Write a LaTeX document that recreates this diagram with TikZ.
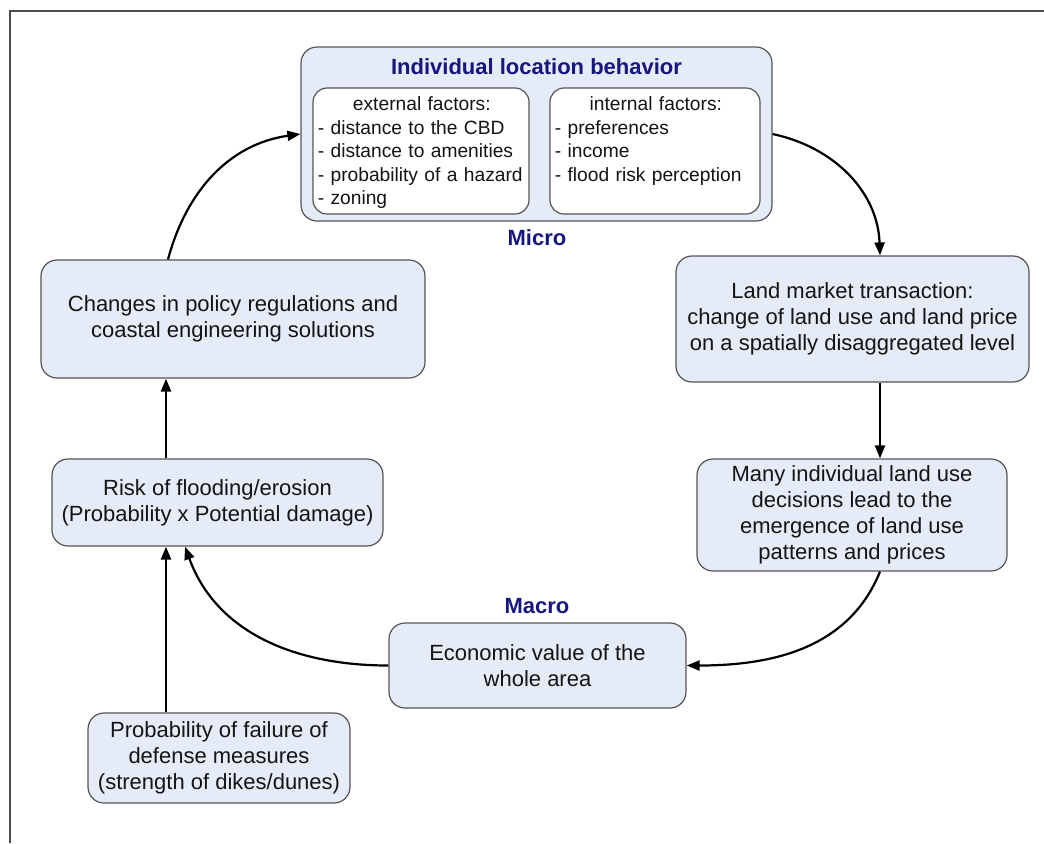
\documentclass[tikz,border=0pt]{standalone}
\usepackage{fontspec}
\setmainfont{Liberation Sans}
\usetikzlibrary{arrows.meta,positioning}
\definecolor{boxblue}{RGB}{230,236,247}
\definecolor{navytitle}{RGB}{22,22,128}
\definecolor{edgegray}{RGB}{85,85,85}

\begin{document}
\begin{tikzpicture}
  [x=0.5pt,y=0.5pt,
   every node/.style={font=\fontsize{11}{13}\selectfont,text=black!92},
   box/.style={rectangle,rounded corners=8pt,draw=edgegray,line width=0.6pt,fill=boxblue,align=center,inner sep=1pt},
   inbox/.style={rectangle,rounded corners=7pt,draw=edgegray,line width=0.6pt,fill=white},
   factors/.style={font=\fontsize{9.6}{11.75}\selectfont,align=left,inner sep=2pt},
   level/.style={font=\fontsize{11}{12}\selectfont\bfseries,text=navytitle},
   arr/.style={-{Triangle[length=6.5pt,width=5pt]},line width=1.1pt,black}]
  \useasboundingbox (0,0) rectangle (1044,-843);
  \draw[line width=1pt,gray!60!black] (10,-843) -- (10,-11) -- (1044,-11);

  % micro level
  \node[box,minimum width=235.5pt,minimum height=87pt] (indiv) at (536.5,-134) {};
  \node[level] (indivT) at (536.5,-67) {Individual location behavior};
  \node[inbox,minimum width=108pt,minimum height=63pt] (ext) at (421,-151) {};
  \node[inbox,minimum width=105pt,minimum height=63pt] (int) at (655,-151) {};
  \node[factors,anchor=north west,text width=104pt] (extT) at ([xshift=0.5pt,yshift=-2.5pt]ext.north west)
    {\makebox[\linewidth][c]{external factors:}\\- distance to the CBD\\- distance to amenities\\- probability of a hazard\\- zoning};
  \node[factors,anchor=north west,text width=101pt] (intT) at ([xshift=0.5pt,yshift=-2.5pt]int.north west)
    {\makebox[\linewidth][c]{internal factors:}\\- preferences\\- income\\- flood risk perception};
  \node[level] (micro) at (537,-238) {Micro};

  % right side
  \node[box,minimum width=176.5pt,minimum height=63pt] (land) at (852.5,-319)
    {Land market transaction:\\change of land use and land price\\on a spatially disaggregated level};
  \node[box,minimum width=155pt,minimum height=56pt] (many) at (852,-515)
    {Many individual land use\\decisions lead to the\\emergence of land use\\patterns and prices};

  % macro level
  \node[level] (macro) at (537,-606) {Macro};
  \node[box,minimum width=148.5pt,minimum height=42.5pt] (econ) at (537.5,-665.5)
    {Economic value of the\\whole area};

  % left side
  \node[box,minimum width=131pt,minimum height=45pt] (prob) at (219,-758)
    {Probability of failure of\\defense measures\\(strength of dikes/dunes)};
  \node[box,minimum width=165.5pt,minimum height=43.5pt] (risk) at (217.5,-502.5)
    {Risk of flooding/erosion\\(Probability x Potential damage)};
  \node[box,minimum width=192pt,minimum height=59pt] (policy) at (233,-319)
    {Changes in policy regulations and\\coastal engineering solutions};

  % connectors
  \draw[arr] (indiv.east) to[out=-12,in=92] ([xshift=13.75pt]land.north);
  \draw[arr] ([xshift=13.75pt]land.south) -- ([xshift=13.75pt]land.south |- many.north);
  \draw[arr] ([xshift=14pt]many.south) to[out=-112,in=0] (econ.east);
  \draw[arr] (econ.west) to[out=180,in=-70] ([xshift=-16.25pt]risk.south);
  \draw[arr] ([xshift=-26.5pt]prob.north) -- ([xshift=-26.5pt]prob.north |- risk.south);
  \draw[arr] ([xshift=-25.75pt]risk.north) -- ([xshift=-25.75pt]risk.north |- policy.south);
  \draw[arr] ([xshift=-32.5pt]policy.north) to[out=75,in=188] (indiv.west);
\end{tikzpicture}
\end{document}
